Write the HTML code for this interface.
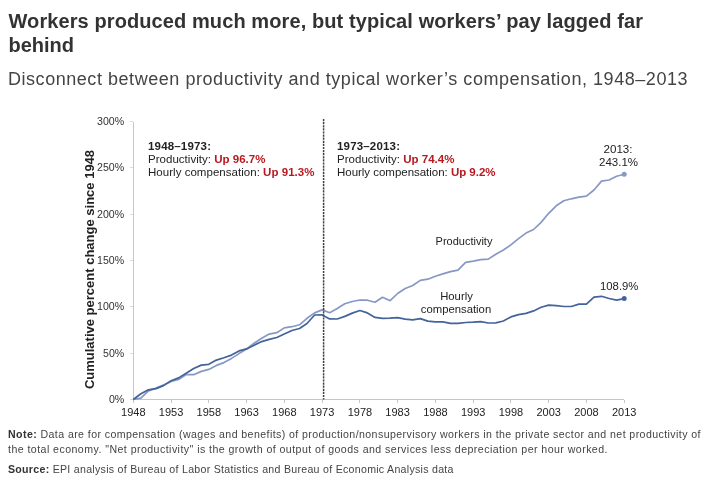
<!DOCTYPE html>
<html><head><meta charset="utf-8"><style>
html,body{margin:0;padding:0;background:#fff;width:713px;height:481px;overflow:hidden}
#wrap{position:absolute;left:0;top:0;width:713px;height:481px;will-change:transform;background:#fff}
svg{position:absolute;left:0;top:0}
</style></head><body><div id="wrap">
<svg width="713" height="481" viewBox="0 0 713 481" font-family="Liberation Sans, sans-serif">
<g fill="#333" font-weight="bold" font-size="20">
<text x="8.5" y="28" textLength="634.5" lengthAdjust="spacing">Workers produced much more, but typical workers’ pay lagged far</text>
<text x="8.5" y="52">behind</text>
</g>
<text x="8" y="85" font-size="18" fill="#444" textLength="679.5" lengthAdjust="spacing">Disconnect between productivity and typical worker’s compensation, 1948–2013</text>
<g stroke="#c6c6c6" stroke-width="1" shape-rendering="crispEdges">
<line x1="133.3" y1="121.5" x2="133.3" y2="403"/>
<line x1="130" y1="399.5" x2="624.2" y2="399.5"/>
<line x1="133.3" y1="399.5" x2="133.3" y2="403"/><line x1="171.1" y1="399.5" x2="171.1" y2="403"/><line x1="208.8" y1="399.5" x2="208.8" y2="403"/><line x1="246.6" y1="399.5" x2="246.6" y2="403"/><line x1="284.3" y1="399.5" x2="284.3" y2="403"/><line x1="322.1" y1="399.5" x2="322.1" y2="403"/><line x1="359.9" y1="399.5" x2="359.9" y2="403"/><line x1="397.6" y1="399.5" x2="397.6" y2="403"/><line x1="435.4" y1="399.5" x2="435.4" y2="403"/><line x1="473.2" y1="399.5" x2="473.2" y2="403"/><line x1="510.9" y1="399.5" x2="510.9" y2="403"/><line x1="548.7" y1="399.5" x2="548.7" y2="403"/><line x1="586.4" y1="399.5" x2="586.4" y2="403"/><line x1="624.2" y1="399.5" x2="624.2" y2="403"/>
</g><g stroke="#dadada" stroke-width="1" shape-rendering="crispEdges"><line x1="130" y1="399.5" x2="133.3" y2="399.5"/><line x1="130" y1="353.2" x2="133.3" y2="353.2"/><line x1="130" y1="306.8" x2="133.3" y2="306.8"/><line x1="130" y1="260.5" x2="133.3" y2="260.5"/><line x1="130" y1="214.2" x2="133.3" y2="214.2"/><line x1="130" y1="167.8" x2="133.3" y2="167.8"/><line x1="130" y1="121.5" x2="133.3" y2="121.5"/></g>
<g font-size="10.6" fill="#333" text-anchor="end"><text x="124.2" y="402.8">0%</text><text x="124.2" y="356.5">50%</text><text x="124.2" y="310.1">100%</text><text x="124.2" y="263.8">150%</text><text x="124.2" y="217.5">200%</text><text x="124.2" y="171.1">250%</text><text x="124.2" y="124.8">300%</text></g>
<g font-size="11" fill="#222" text-anchor="middle"><text x="133.3" y="415.5">1948</text><text x="171.1" y="415.5">1953</text><text x="208.8" y="415.5">1958</text><text x="246.6" y="415.5">1963</text><text x="284.3" y="415.5">1968</text><text x="322.1" y="415.5">1973</text><text x="359.9" y="415.5">1978</text><text x="397.6" y="415.5">1983</text><text x="435.4" y="415.5">1988</text><text x="473.2" y="415.5">1993</text><text x="510.9" y="415.5">1998</text><text x="548.7" y="415.5">2003</text><text x="586.4" y="415.5">2008</text><text x="624.2" y="415.5">2013</text></g>
<polyline fill="none" stroke="#8898c4" stroke-width="1.7" stroke-linejoin="round" points="133.3,399.5 140.9,398.1 148.4,390.9 156.0,388.1 163.5,385.0 171.1,381.4 178.6,379.5 186.2,374.6 193.7,374.7 201.3,371.4 208.8,369.4 216.4,365.4 223.9,362.6 231.5,358.4 239.0,353.6 246.6,349.0 254.1,343.3 261.7,338.3 269.2,334.1 276.8,332.7 284.3,327.9 291.9,326.7 299.5,324.8 307.0,318.3 314.6,312.9 322.1,309.9 329.7,312.7 337.2,308.5 344.8,303.8 352.3,301.5 359.9,300.0 367.4,300.2 375.0,302.2 382.5,297.3 390.1,300.7 397.6,293.5 405.2,288.5 412.7,285.5 420.3,280.4 427.8,279.2 435.4,276.2 442.9,273.9 450.5,271.6 458.0,270.2 465.6,262.4 473.2,261.1 480.7,259.6 488.3,259.1 495.8,254.2 503.4,250.0 510.9,244.9 518.5,238.6 526.0,233.1 533.6,229.5 541.1,222.4 548.7,213.3 556.2,205.8 563.8,200.8 571.3,198.8 578.9,197.1 586.4,196.1 594.0,190.0 601.5,181.1 609.1,180.0 616.6,176.3 624.2,174.2"/>
<polyline fill="none" stroke="#43639b" stroke-width="1.7" stroke-linejoin="round" points="133.3,399.5 140.9,393.7 148.4,389.8 156.0,388.6 163.5,385.6 171.1,380.7 178.6,377.9 186.2,373.2 193.7,368.5 201.3,365.1 208.8,364.3 216.4,360.1 223.9,357.8 231.5,355.1 239.0,350.9 246.6,348.9 254.1,345.2 261.7,341.6 269.2,339.4 276.8,337.5 284.3,334.0 291.9,330.5 299.5,328.5 307.0,323.5 314.6,315.0 322.1,314.9 329.7,318.9 337.2,319.0 344.8,316.4 352.3,313.1 359.9,310.5 367.4,312.9 375.0,317.4 382.5,318.3 390.1,318.1 397.6,317.7 405.2,319.1 412.7,319.8 420.3,318.6 427.8,321.1 435.4,321.9 442.9,321.9 450.5,323.3 458.0,323.4 465.6,322.5 473.2,322.2 480.7,321.7 488.3,323.0 495.8,322.8 503.4,321.0 510.9,316.9 518.5,314.6 526.0,313.4 533.6,310.9 541.1,307.3 548.7,305.1 556.2,305.6 563.8,306.5 571.3,306.5 578.9,304.1 586.4,304.1 594.0,297.2 601.5,296.3 609.1,298.5 616.6,300.1 624.2,298.6"/>
<circle cx="624.2" cy="174.2" r="2.5" fill="#8898c4"/>
<circle cx="624.2" cy="298.6" r="2.5" fill="#43639b"/>
<line x1="323.6" y1="119" x2="323.6" y2="399.5" stroke="#404040" stroke-width="1.5" stroke-dasharray="2.2,0.9"/>
<text transform="translate(94.3,269.5) rotate(-90)" text-anchor="middle" font-size="13" font-weight="bold" fill="#222">Cumulative percent change since 1948</text>
<g font-size="11.5" fill="#222">
<text x="148" y="150.2" font-weight="bold" textLength="63" lengthAdjust="spacing">1948–1973:</text>
<text x="148" y="162.7" textLength="117.5" lengthAdjust="spacing">Productivity: <tspan fill="#b81820" font-weight="bold">Up 96.7%</tspan></text>
<text x="148" y="176" textLength="166.5" lengthAdjust="spacing">Hourly compensation: <tspan fill="#b81820" font-weight="bold">Up 91.3%</tspan></text>
<text x="337" y="150.2" font-weight="bold" textLength="63" lengthAdjust="spacing">1973–2013:</text>
<text x="337" y="162.7" textLength="117.5" lengthAdjust="spacing">Productivity: <tspan fill="#b81820" font-weight="bold">Up 74.4%</tspan></text>
<text x="337" y="176" textLength="158.5" lengthAdjust="spacing">Hourly compensation: <tspan fill="#b81820" font-weight="bold">Up 9.2%</tspan></text>
</g>
<g font-size="11" fill="#222" text-anchor="middle">
<text x="618" y="153" font-size="11.6">2013:</text>
<text x="618.6" y="166" font-size="11.5">243.1%</text>
<text x="464" y="245">Productivity</text>
<text x="456.5" y="299.5" font-size="11.3">Hourly</text>
<text x="456" y="312.5" font-size="11.3">compensation</text>
<text x="619.2" y="290" font-size="11.3">108.9%</text>
</g>
<g font-size="10.6" fill="#444">
<text x="8" y="438" textLength="692.5" lengthAdjust="spacing"><tspan font-weight="bold" fill="#333">Note:</tspan> Data are for compensation (wages and benefits) of production/nonsupervisory workers in the private sector and net productivity of</text>
<text x="8" y="453" textLength="599.5" lengthAdjust="spacing">the total economy. "Net productivity" is the growth of output of goods and services less depreciation per hour worked.</text>
<text x="8" y="473" textLength="445.5" lengthAdjust="spacing"><tspan font-weight="bold" fill="#333">Source:</tspan> EPI analysis of Bureau of Labor Statistics and Bureau of Economic Analysis data</text>
</g>
</svg></div>
</body></html>
